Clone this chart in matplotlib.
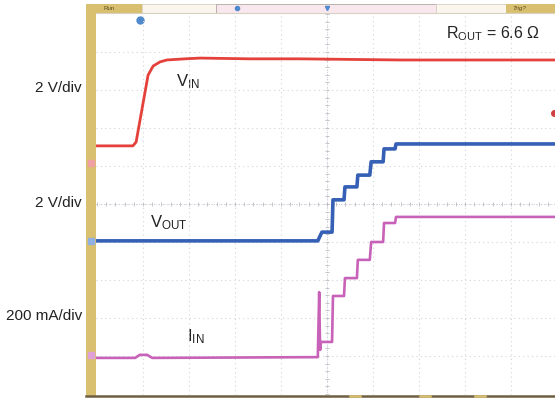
import matplotlib.pyplot as plt
import numpy as np
from matplotlib.patches import Rectangle

plt.rcParams['font.family'] = ['Liberation Sans', 'DejaVu Sans']
plt.rcParams['mathtext.fontset'] = 'custom'
plt.rcParams['mathtext.rm'] = 'Liberation Sans'
plt.rcParams['mathtext.default'] = 'regular'

# -------------------------------------------------------------------------------------------------------------------- #
# Data (in divisions: time from centre, level from centre)

vin_t = [-5.02, -4.22, -4.15, -3.89, -3.78, -3.63, -3.48, -3.09, -2.76, -1.67, -0.59, 1.59, 4.96]
vin_v = [1.53, 1.53, 1.63, 3.39, 3.63, 3.74, 3.79, 3.82, 3.84, 3.82, 3.82, 3.79, 3.79]

vout_t = [-5.02, -0.20, -0.15, -0.11, 0.11, 0.13, 0.37, 0.39, 0.65, 0.67, 0.93, 0.96, 1.22, 1.24, 1.48, 1.50, 4.96]
vout_v = [-0.97, -0.97, -0.84, -0.74, -0.74, 0.11, 0.11, 0.45, 0.45, 0.76, 0.76, 1.11, 1.11, 1.45, 1.45, 1.58, 1.58]

iin_t = [-5.02, -4.17, -4.07, -3.91, -3.80, -0.20, -0.17, -0.15, -0.13, 0.11, 0.13, 0.37, 0.39, 0.65, 0.67, 0.93,
         0.96, 1.22, 1.24, 1.48, 1.50, 4.96]
iin_v = [-4.05, -4.05, -3.97, -3.97, -4.05, -4.03, -2.32, -3.84, -3.63, -3.63, -2.42, -2.42, -1.95, -1.95, -1.47,
         -1.47, -1.00, -1.00, -0.50, -0.50, -0.34, -0.34]

scale_labels = ['2 V/div', '2 V/div', '200 mA/div']
scale_label_y = [88, 203, 316]

colors = {'vin': '#e5413b', 'vout': '#3560b5', 'iin': '#c862b8',
          'frame': '#d9c070', 'grid': '#d4d4d4', 'border': '#6e5e42'}

# -------------------------------------------------------------------------------------------------------------------- #
# Figure / background frame in pixel coordinates

W, H = 555, 399
fig = plt.figure(figsize=(W / 100, H / 100), dpi=100)
bg = fig.add_axes([0, 0, 1, 1])
bg.set_xlim(0, W)
bg.set_ylim(H, 0)
bg.axis('off')

# left yellow strip and top bar
bg.add_patch(Rectangle((86, 4), 10, 392, color=colors['frame'], lw=0))
bg.add_patch(Rectangle((86, 4), 56, 9, color=colors['frame'], lw=0))
bg.add_patch(Rectangle((142, 4), 74, 9, facecolor='#faf6ee', edgecolor='#d8d0c0', lw=0.6))
bg.add_patch(Rectangle((216, 4), 220, 9, facecolor='#f8e8ee', edgecolor='#b0a8a0', lw=0.6))
bg.add_patch(Rectangle((436, 4), 70, 9, facecolor='#faf6ee', edgecolor='#d8d0c0', lw=0.6))
bg.add_patch(Rectangle((506, 4), 49, 9, color=colors['frame'], lw=0))
bg.text(104, 8.5, 'Run', fontsize=4.5, color='#5a4a20', va='center', ha='left')
bg.text(512, 8.5, 'Trig?', fontsize=4.5, color='#5a4a20', va='center', ha='left', style='italic')
bg.plot([96, 555], [13, 13], color='#d8d0c0', lw=0.8)
# bottom border
bg.plot([86, 555], [395.5, 395.5], color=colors['border'], lw=1.8)
for xm in [355, 425, 480]:
    bg.plot([xm - 5, xm + 5], [395.5, 395.5], color=colors['frame'], lw=1.8)

# channel markers
bg.plot(91, 163, marker='s', ms=4, color='#f0a0a0')
bg.plot(91, 241, marker='s', ms=4, color='#8fb0e0')
bg.plot(91, 355, marker='s', ms=4, color='#e0a0d8')
bg.plot(140, 20, marker='o', ms=5, color='#4f88cc')
bg.plot(237, 8, marker='o', ms=3, color='#4f88cc')
bg.plot(327, 8, marker='v', ms=3, color='#4f88cc')
bg.plot(554, 113, marker='o', ms=4, color='#d04040')

# scale labels
for label, yy in zip(scale_labels, scale_label_y):
    bg.text(82, yy, label, fontsize=11, ha='right', va='center', color='#222222')

# -------------------------------------------------------------------------------------------------------------------- #
# Scope screen

ax = fig.add_axes([96 / W, 4 / H, (W - 96) / W, (395 - 13) / H])
ax.set_xlim((96 - 327) / 46, (555 - 327) / 46)
ax.set_ylim((204 - 395) / 38, (204 - 13) / 38)
ax.patch.set_alpha(0)
ax.axis('off')

for g in range(-4, 6):
    ax.axvline(g, color=colors['grid'], lw=0.8, ls=(0, (1, 3)), zorder=1)
for g in range(-4, 5):
    ax.axhline(g, color=colors['grid'], lw=0.8, ls=(0, (1, 3)), zorder=1)

# centre lines with minor ticks
ax.axvline(0, color='#c4c4d0', lw=0.6, ls=(0, (1, 2)), zorder=1)
ax.axhline(0, color='#c4c4d0', lw=0.6, ls=(0, (1, 2)), zorder=1)
minor = np.arange(-5, 5.01, 0.2)
ax.plot(np.zeros_like(minor), minor, ls='none', marker='_', ms=3, mew=0.6, color='#bcbcc8', zorder=1)
ax.plot(minor, np.zeros_like(minor), ls='none', marker='|', ms=3, mew=0.6, color='#bcbcc8', zorder=1)

ax.plot(vin_t, vin_v, color=colors['vin'], lw=2.0, solid_joinstyle='round', zorder=3)
ax.plot(vout_t, vout_v, color=colors['vout'], lw=2.6, solid_joinstyle='round', zorder=3)
ax.plot(iin_t, iin_v, color=colors['iin'], lw=1.9, solid_joinstyle='round', zorder=3)

# trace labels
bg.text(176, 82, r'V$_{IN}$', fontsize=12, ha='left', va='center', color='#222222')
bg.text(150, 223, r'V$_{OUT}$', fontsize=12, ha='left', va='center', color='#222222')
bg.text(187, 337, r'I$_{IN}$', fontsize=12, ha='left', va='center', color='#222222')
bg.text(446, 34, r'R$_{OUT}$ = 6.6 $\Omega$', fontsize=11.5, ha='left', va='center', color='#222222')

fig.savefig('out.png', dpi=100)
